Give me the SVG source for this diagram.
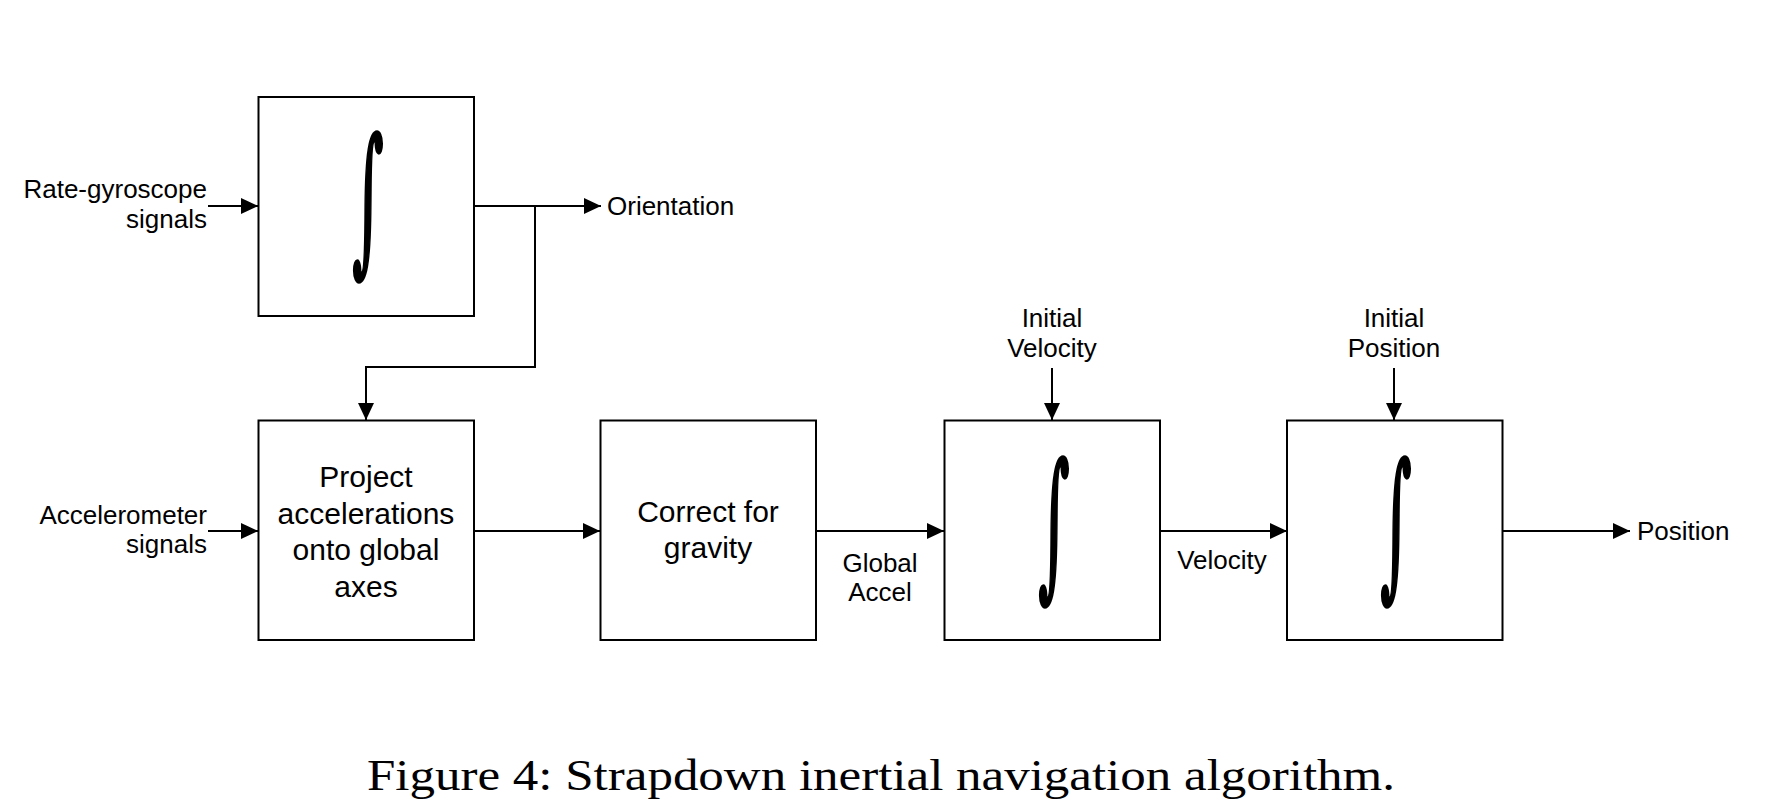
<svg xmlns="http://www.w3.org/2000/svg" width="1786" height="810" viewBox="0 0 1786 810">
<style>
.box{fill:#fff;stroke:#000;stroke-width:2}
.ln{fill:none;stroke:#000;stroke-width:2}
.t{font-family:"Liberation Sans",Arial,sans-serif;font-size:26px;fill:#000}
.tb{font-family:"Liberation Sans",Arial,sans-serif;font-size:30px;fill:#000;text-anchor:middle}
.int{font-family:"DejaVu Serif",serif;font-size:110px;fill:#000;stroke:#000;stroke-width:2.5;text-anchor:middle}
.cap{font-family:"Liberation Serif","Times New Roman",serif;font-size:44px;fill:#000;text-anchor:middle}
</style>
<defs>
<marker id="ah" markerUnits="userSpaceOnUse" markerWidth="18" markerHeight="16" refX="17" refY="8" orient="auto">
<path d="M0,0 L17,8 L0,16 z" fill="#000"/>
</marker>
</defs>
<rect width="1786" height="810" fill="#fff"/>
<g id="connectors">
<path class="ln" d="M208,206 H258" marker-end="url(#ah)"/>
<path class="ln" d="M474,206 H601" marker-end="url(#ah)"/>
<path class="ln" d="M535,206 V367 H366 V420" marker-end="url(#ah)"/>
<path class="ln" d="M208,531 H258" marker-end="url(#ah)"/>
<path class="ln" d="M474,531 H600" marker-end="url(#ah)"/>
<path class="ln" d="M816,531 H944" marker-end="url(#ah)"/>
<path class="ln" d="M1160,531 H1287" marker-end="url(#ah)"/>
<path class="ln" d="M1502,531 H1630" marker-end="url(#ah)"/>
<path class="ln" d="M1052,368 V420" marker-end="url(#ah)"/>
<path class="ln" d="M1394,368 V420" marker-end="url(#ah)"/>
</g>
<g id="n_gyro_int">
<rect class="box" x="258.5" y="97" width="215.5" height="219"/>
<text class="int" transform="translate(368,253) scale(0.55,1.45)">∫</text>
</g>
<g id="n_project">
<rect class="box" x="258.5" y="420.5" width="215.5" height="219.5"/>
<text class="tb" x="366" y="487">Project</text>
<text class="tb" x="366" y="523.5">accelerations</text>
<text class="tb" x="366" y="560">onto global</text>
<text class="tb" x="366" y="596.5">axes</text>
</g>
<g id="n_gravity">
<rect class="box" x="600.5" y="420.5" width="215.5" height="219.5"/>
<text class="tb" x="708" y="522">Correct for</text>
<text class="tb" x="708" y="558">gravity</text>
</g>
<g id="n_vel_int">
<rect class="box" x="944.5" y="420.5" width="215.5" height="219.5"/>
<text class="int" transform="translate(1054,578) scale(0.55,1.45)">∫</text>
</g>
<g id="n_pos_int">
<rect class="box" x="1287" y="420.5" width="215.5" height="219.5"/>
<text class="int" transform="translate(1396,578) scale(0.55,1.45)">∫</text>
</g>
<g id="labels">
<text class="t" x="207" y="198" text-anchor="end">Rate-gyroscope</text>
<text class="t" x="207" y="228" text-anchor="end">signals</text>
<text class="t" x="607" y="215">Orientation</text>
<text class="t" x="207" y="524" text-anchor="end">Accelerometer</text>
<text class="t" x="207" y="553" text-anchor="end">signals</text>
<text class="t" x="880" y="572" text-anchor="middle">Global</text>
<text class="t" x="880" y="601" text-anchor="middle">Accel</text>
<text class="t" x="1222" y="569" text-anchor="middle">Velocity</text>
<text class="t" x="1052" y="327" text-anchor="middle">Initial</text>
<text class="t" x="1052" y="357" text-anchor="middle">Velocity</text>
<text class="t" x="1394" y="327" text-anchor="middle">Initial</text>
<text class="t" x="1394" y="357" text-anchor="middle">Position</text>
<text class="t" x="1637" y="540">Position</text>
</g>
<text class="cap" x="881" y="790" textLength="1028" lengthAdjust="spacingAndGlyphs">Figure 4: Strapdown inertial navigation algorithm.</text>
</svg>
